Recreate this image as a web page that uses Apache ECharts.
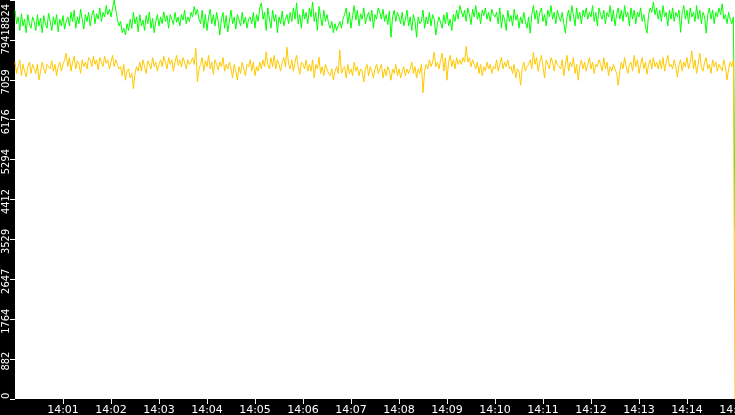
<!DOCTYPE html>
<html>
<head>
<meta charset="utf-8">
<script src="https://cdn.jsdelivr.net/npm/echarts@6/dist/echarts.min.js"></script>
<style>
html,body{margin:0;padding:0;background:#000;}
#chart{width:735px;height:415px;}
</style>
</head>
<body>
<div id="chart"></div>
<script>
// samples every 2 s from 14:00:00 to 14:15:00
var durationSeconds = 900;
var startHour = 14;
var yMax = 8824;
var yTickStep = 882.4;
var xTickSeconds = [60,120,180,240,300,360,420,480,540,600,660,720,780,840,900];

var greenValues = [
8600,8300,8450,8150,8520,8250,8400,8100,8500,8300,8200,8450,
8350,8150,8500,8250,8420,8100,8480,8300,8200,8530,8350,8150,8450,8280,8500,8120,8400,8250,8480,8180,8350,8450,
8250,8550,8350,8600,8200,8450,8300,8620,8400,8180,8500,8350,8550,8250,8480,8600,8300,8520,8400,8650,8350,8550,8450,8700,8500,8620,
8450,8650,8824,
8600,8400,8250,8350,8100,8200,8050,8300,8150,
8400,8200,8550,8300,8450,8120,8500,8250,8380,8150,8480,8300,8560,8200,8420,8100,8350,8500,8250,
8450,8300,8560,8350,8480,8200,8500,8400,8280,8550,8330,8450,8250,8500,8380,8600,8300,8450,8350,
8550,8450,8680,8500,8620,8400,
8300,8600,8200,8500,8150,8450,8620,8300,8500,8250,8550,8350,8050,
8400,8550,8200,8480,8120,8350,8600,8300,8450,8180,8500,8380,8250,8550,8300,8450,8200,8400,
8450,8300,8550,8200,8500,8350,8650,8760,8400,8550,8150,8650,8400,8200,8600,8350,8500,8100,8450,8300,8580,8250,8400,8500,8300,
8550,8350,8650,8400,8760,8300,8500,8200,8620,8400,8550,8300,8650,8450,8780,8350,8550,8150,8680,8450,8250,8600,8350,8500,8300,
8200,8350,8100,8300,8150,8250,8350,8200,8400,
8500,8650,8300,8550,8200,8480,8700,8380,8600,8250,8520,8400,8650,8300,8450,8550,8350,8600,8200,8500,8400,8650,
8550,8400,8620,8350,8500,8280,8580,8000,8450,8600,8350,8550,8450,
8300,8550,8250,8400,8600,8250,8450,8150,8500,8350,8000,8450,8300,
8350,8600,8200,8450,8300,8550,8250,8500,8400,8050,8300,8450,
8450,8200,8500,8300,8550,8250,8400,8150,8500,8350,8600,8400,8700,
8710,8450,8600,8350,8650,8500,8280,8620,8450,8700,8400,8550,8300,8600,8480,8650,8400,8550,8350,8620,8500,8450,
8550,8300,8650,8200,8500,8400,8150,8600,8350,8480,8250,8620,8380,8500,8200,8450,8300,8550,8350,8200,8450,
8090,8500,8700,8400,8600,8300,8550,8650,8350,8500,8250,8600,8450,8700,8400,8550,8300,8600,8450,
8350,8550,8300,8090,8450,8600,8350,8700,8500,8250,8650,8400,8550,8300,8600,8450,8650,8400,8550,
8450,8700,8350,8550,8250,8650,8500,8400,8600,8300,8550,8450,8700,8350,8600,8250,8500,8650,8400,
8600,8350,8700,8450,8550,8250,8650,8400,8600,8300,8550,8450,8650,8350,8500,8250,8090,8500,
8650,8550,8780,8500,8650,8400,8600,8350,8700,8450,8550,8250,8600,8400,8650,8350,8550,8450,8600,
8110,8550,8700,8400,8600,8300,8650,8450,8550,8350,8700,8400,8600,8300,8550,8450,8090,8500,8650,
8400,8600,8300,8550,8450,8650,8500,8740,8400,8500,8300,8550,8400,8300,8450,
3737
];

var yellowValues = [
7450,7200,7350,7500,7150,7400,7250,7120,7350,7450,7200,7400,
7300,7200,7400,7055,7250,7450,7300,7200,7400,7350,
7300,7480,7250,7400,7150,7350,7450,7250,7400,
7500,7650,7350,7550,7250,7450,7580,7300,7480,7400,7200,7500,7350,7450,7300,7550,
7500,7350,7580,7400,7500,7280,7550,7450,7350,7580,7420,7500,7300,7450,7600,7350,7500,7400,7300,
7350,7150,7400,7050,7250,7300,7100,7200,6860,7200,7350,7250,
7450,7250,7500,7350,7200,7480,7400,7300,7550,7350,7450,7250,7400,
7500,7350,7580,7450,7300,7550,7400,7500,7250,7450,7600,7380,7500,7350,7550,7450,7300,7500,7400,
7450,7550,7400,7760,7010,7300,
7400,7550,7250,7480,7350,7600,7300,7450,7180,7500,7400,7280,7450,7350,7550,7250,7400,7300,7450,
7300,7100,7400,7250,7050,7350,7200,7450,7300,7150,7400,7350,7500,7250,7450,7150,7350,7250,7450,7300,7500,7350,7680,7400,7300,
7550,7350,7600,7300,7500,7400,7250,7450,7550,7350,7780,7400,
7300,7500,7250,7450,7600,7350,7180,7450,7400,7300,7500,7250,7400,
7250,7500,7100,7400,7300,7560,7200,7350,7150,7400,7300,7200,
7150,7300,7050,7250,7350,7200,7720,7200,7300,
7350,7100,7400,7200,7300,7150,7450,7250,7350,7150,7300,7250,7010,7300,7400,7150,7350,7250,7100,7300,7400,7200,
7200,7400,7100,7300,7150,7350,7250,7050,7300,7200,7400,7150,7300,7100,7250,7350,7150,7300,7200,
7300,7450,7200,7350,7100,7300,7200,7400,6770,
7250,7400,7300,7500,7350,7450,7670,7350,7450,7300,
7500,7650,7250,7550,7050,7450,7600,7350,7500,7300,7550,7400,7500,
7400,7550,7450,7800,7450,7550,7350,7500,7400,
7300,7450,7200,7400,7150,7350,7250,7450,7300,7400,7200,7350,7300,
7500,7250,7400,7560,7300,7450,7350,7500,7300,
7350,7200,7400,7100,7300,7250,6940,7300,7450,7250,7350,7400,
7500,7300,7670,7400,7550,7250,7450,7600,7350,7100,7500,7400,7300,7550,7450,7250,7500,7400,7350,
7300,7500,7150,7400,7600,7250,7450,7350,7550,7200,7400,7050,7350,7500,7300,7450,7250,7400,7550,7300,7450,7200,7400,7350,7500,
7400,7250,7550,7300,7450,7150,7350,7250,7400,7300,7200,6940,7250,7450,7300,7550,7350,7200,7400,
7450,7250,7600,7350,7500,7200,7400,7550,7300,7450,7180,7400,7500,7300,7550,7350,7450,7300,
7500,7300,7550,7250,7450,7600,7350,7400,7300,7500,7350,7120,7400,7500,7250,7450,7350,7550,7300,
7450,7700,7300,7500,7200,7400,7650,7350,7250,7450,7550,7300,7400,7200,7500,7350,7450,7250,7400,
7400,7250,7500,7350,7055,7300,7450,7350,7500,
0
];

function toPairs(vals){
  var step = durationSeconds / (vals.length - 1);
  var out = [];
  for (var i = 0; i < vals.length; i++) out.push([i * step, vals[i]]);
  return out;
}
function timeLabel(sec){
  var m = Math.round(sec / 60);
  var h = startHour + Math.floor(m / 60);
  m = m % 60;
  return h + ':' + (m < 10 ? '0' + m : m);
}

var chart = echarts.init(document.getElementById('chart'), null, {renderer: 'canvas'});
var font = 'DejaVu Sans';
chart.setOption({
  animation: false,
  backgroundColor: '#000000',
  grid: {
    left: 15, right: 0, top: 0, bottom: 16,
    show: true, backgroundColor: '#ffffff', borderWidth: 0,
    outerBoundsMode: 'none'
  },
  xAxis: {
    type: 'value',
    min: 0, max: durationSeconds, interval: 60,
    axisLine: {show: false},
    axisTick: {show: true, length: 5, lineStyle: {color: '#ffffff', width: 1}, customValues: xTickSeconds},
    axisLabel: {
      color: '#ffffff', fontFamily: font, fontSize: 11, margin: 6,
      customValues: xTickSeconds, hideOverlap: false,
      formatter: function(v){ return timeLabel(v); }
    },
    splitLine: {show: false}
  },
  yAxis: {
    type: 'value',
    min: 0, max: yMax, interval: yTickStep,
    axisLine: {show: false},
    axisTick: {show: true, length: 5, lineStyle: {color: '#ffffff', width: 1}},
    axisLabel: {
      color: '#ffffff', fontFamily: "'Liberation Sans Narrow', 'DejaVu Sans Condensed', 'DejaVu Sans'",
      fontSize: 11, margin: 3.5, rotate: 90,
      padding: [0, 4, 0, 0],
      showMinLabel: true, showMaxLabel: true, hideOverlap: false,
      alignMinLabel: 'left', alignMaxLabel: 'right',
      formatter: function(v){ return String(Math.floor(v + 1e-6)); }
    },
    splitLine: {show: false}
  },
  series: [
    {
      type: 'line', name: 'green', data: toPairs(greenValues),
      showSymbol: false, symbol: 'none',
      lineStyle: {color: '#00ff00', width: 1},
      itemStyle: {color: '#00ff00'}
    },
    {
      type: 'line', name: 'yellow', data: toPairs(yellowValues),
      showSymbol: false, symbol: 'none',
      lineStyle: {color: '#ffc800', width: 1},
      itemStyle: {color: '#ffc800'}
    }
  ]
});
</script>
</body>
</html>
